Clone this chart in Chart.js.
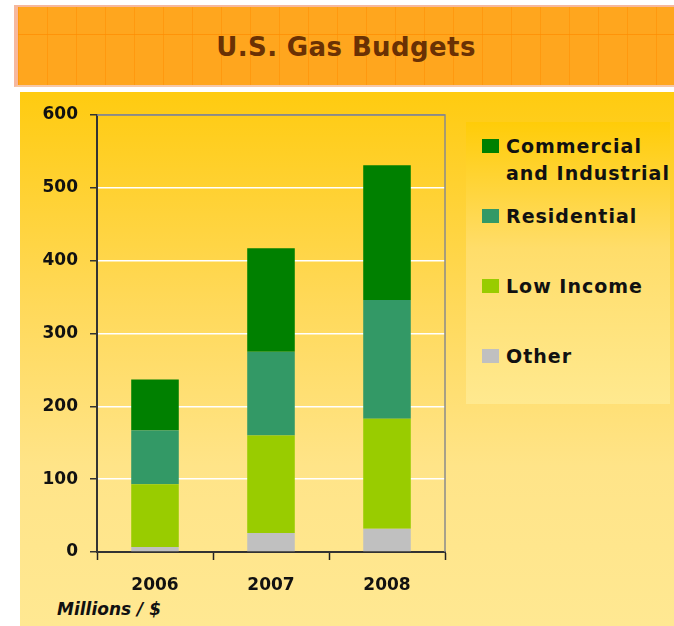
<!DOCTYPE html>
<html>
<head>
<meta charset="utf-8">
<script src="https://cdn.jsdelivr.net/npm/chart.js@4"></script>
<style>
    body { margin: 0; width: 674px; height: 626px; background: #fff; position: relative; overflow: hidden; font-family: "DejaVu Sans", sans-serif; }
    .band {
        position: absolute; left: 14px; top: 5px; width: 656px; height: 78px;
        border-left: 4px solid #f6b89e; border-top: 2px solid #f6b89e; border-bottom: 2px solid #f6c8a8;
        background-color: #ffa61e;
        background-image:
            repeating-linear-gradient(90deg, rgba(255,140,0,0.5) 0 1px, transparent 1px 29px),
            repeating-linear-gradient(180deg, transparent 0 27px, rgba(255,140,0,0.7) 27px 28px, transparent 28px 29.5px);
    }
    .band h1 { margin: 0; text-align: center; line-height: 80px; font-size: 26px; font-weight: bold; color: #6a3104; letter-spacing: 0.4px; }
    .panel {
        position: absolute; left: 20px; top: 92px; width: 654px; height: 534px;
        background: linear-gradient(180deg, #ffcb10 0%, #ffd95a 40%, #ffe488 70%, #ffe892 100%);
    }
    #legend {
        position: absolute; left: 466px; top: 122px; width: 204px; height: 282px;
        background: linear-gradient(180deg, #ffcc08 0%, #ffdd6a 45%, #ffe98f 100%);
        box-sizing: border-box; padding: 11px 0 0 16px; overflow: visible;
    }
    .item { display: flex; height: 70px; align-items: flex-start; }
    .item .sw { width: 17px; height: 14px; margin-top: 6px; flex: none; }
    .item .tx { margin-left: 7px; font-size: 19px; font-weight: bold; letter-spacing: 1px; line-height: 27px; color: #111; width: 176px; flex: none; }
    .unit { position: absolute; left: 57px; top: 599px; font-size: 17px; font-weight: bold; font-style: italic; color: #111; }
    canvas { position: absolute; left: 0; top: 0; }
</style>
</head>
<body>
<div class="band"><h1>U.S. Gas Budgets</h1></div>
<div class="panel"></div>
<div id="legend"></div>
<div class="unit">Millions / $</div>
<canvas id="chart" width="674" height="626"></canvas>
<script>
// values in millions of dollars
const years = ["2006", "2007", "2008"];
const other = [7, 26, 32];
const lowIncome = [86, 134, 151];
const residential = [74, 115, 163];
const commercial = [70, 142, 185];

const seriesNames = ["Other", "Low Income", "Residential", "Commercial and Industrial"];
const seriesColors = ["#c0c0c0", "#99cc00", "#339966", "#008000"];
const yTicks = [0, 100, 200, 300, 400, 500, 600];

const tickFont = { family: "DejaVu Sans", size: 17, weight: "bold" };

// gray frame on top and right of the plot
const frame = {
    id: 'frame',
    beforeDatasetsDraw(chart) {
        const a = chart.chartArea;
        const ctx = chart.ctx;
        ctx.save();
        ctx.strokeStyle = '#8a8a8a';
        ctx.lineWidth = 1.5;
        ctx.beginPath();
        ctx.moveTo(a.left, a.top);
        ctx.lineTo(a.right, a.top);
        ctx.lineTo(a.right, a.bottom);
        ctx.stroke();
        ctx.restore();
    }
};

function initChart() {
    const allSeries = [other, lowIncome, residential, commercial];
    const chart = new Chart(document.getElementById('chart').getContext('2d'), {
        type: 'bar',
        data: {
            labels: years,
            datasets: allSeries.map((d, i) => ({
                label: seriesNames[i],
                data: d,
                backgroundColor: seriesColors[i],
                borderWidth: 0,
                barPercentage: 0.41,
                categoryPercentage: 1
            }))
        },
        options: {
            responsive: false,
            animation: false,
            layout: { padding: { left: 0, top: 115, right: 229, bottom: 0 } },
            plugins: { legend: { display: false }, title: { display: false }, tooltip: { enabled: false } },
            scales: {
                x: {
                    stacked: true,
                    offset: true,
                    grid: { offset: true, color: 'transparent', drawOnChartArea: false, tickColor: '#222', tickLength: 8, tickWidth: 1.5 },
                    border: { color: '#333', width: 2 },
                    ticks: { font: tickFont, color: '#111', padding: 15 },
                    afterFit(s) { s.height = 74; }
                },
                y: {
                    stacked: true,
                    min: 0,
                    max: 600,
                    afterBuildTicks(s) { s.ticks = yTicks.map(v => ({ value: v })); },
                    grid: {
                        color: c => c.tick && c.tick.value === 600 ? '#8a8a8a' : (c.tick && c.tick.value === 0 ? 'transparent' : '#ffffff'),
                        lineWidth: 1.5,
                        tickColor: '#333',
                        tickLength: 7,
                        tickWidth: 1.5
                    },
                    border: { color: '#333', width: 2 },
                    ticks: { font: tickFont, color: '#111', padding: 12 },
                    afterFit(s) { s.width = 97; }
                }
            }
        },
        plugins: [frame]
    });

    // legend built from the chart datasets, top entry first
    const box = document.getElementById('legend');
    chart.data.datasets.slice().reverse().forEach(ds => {
        const row = document.createElement('div');
        row.className = 'item';
        row.innerHTML = '<div class="sw" style="background:' + ds.backgroundColor + '"></div><div class="tx">' + ds.label + '</div>';
        box.appendChild(row);
    });
}

window.onload = initChart;
</script>
</body>
</html>
